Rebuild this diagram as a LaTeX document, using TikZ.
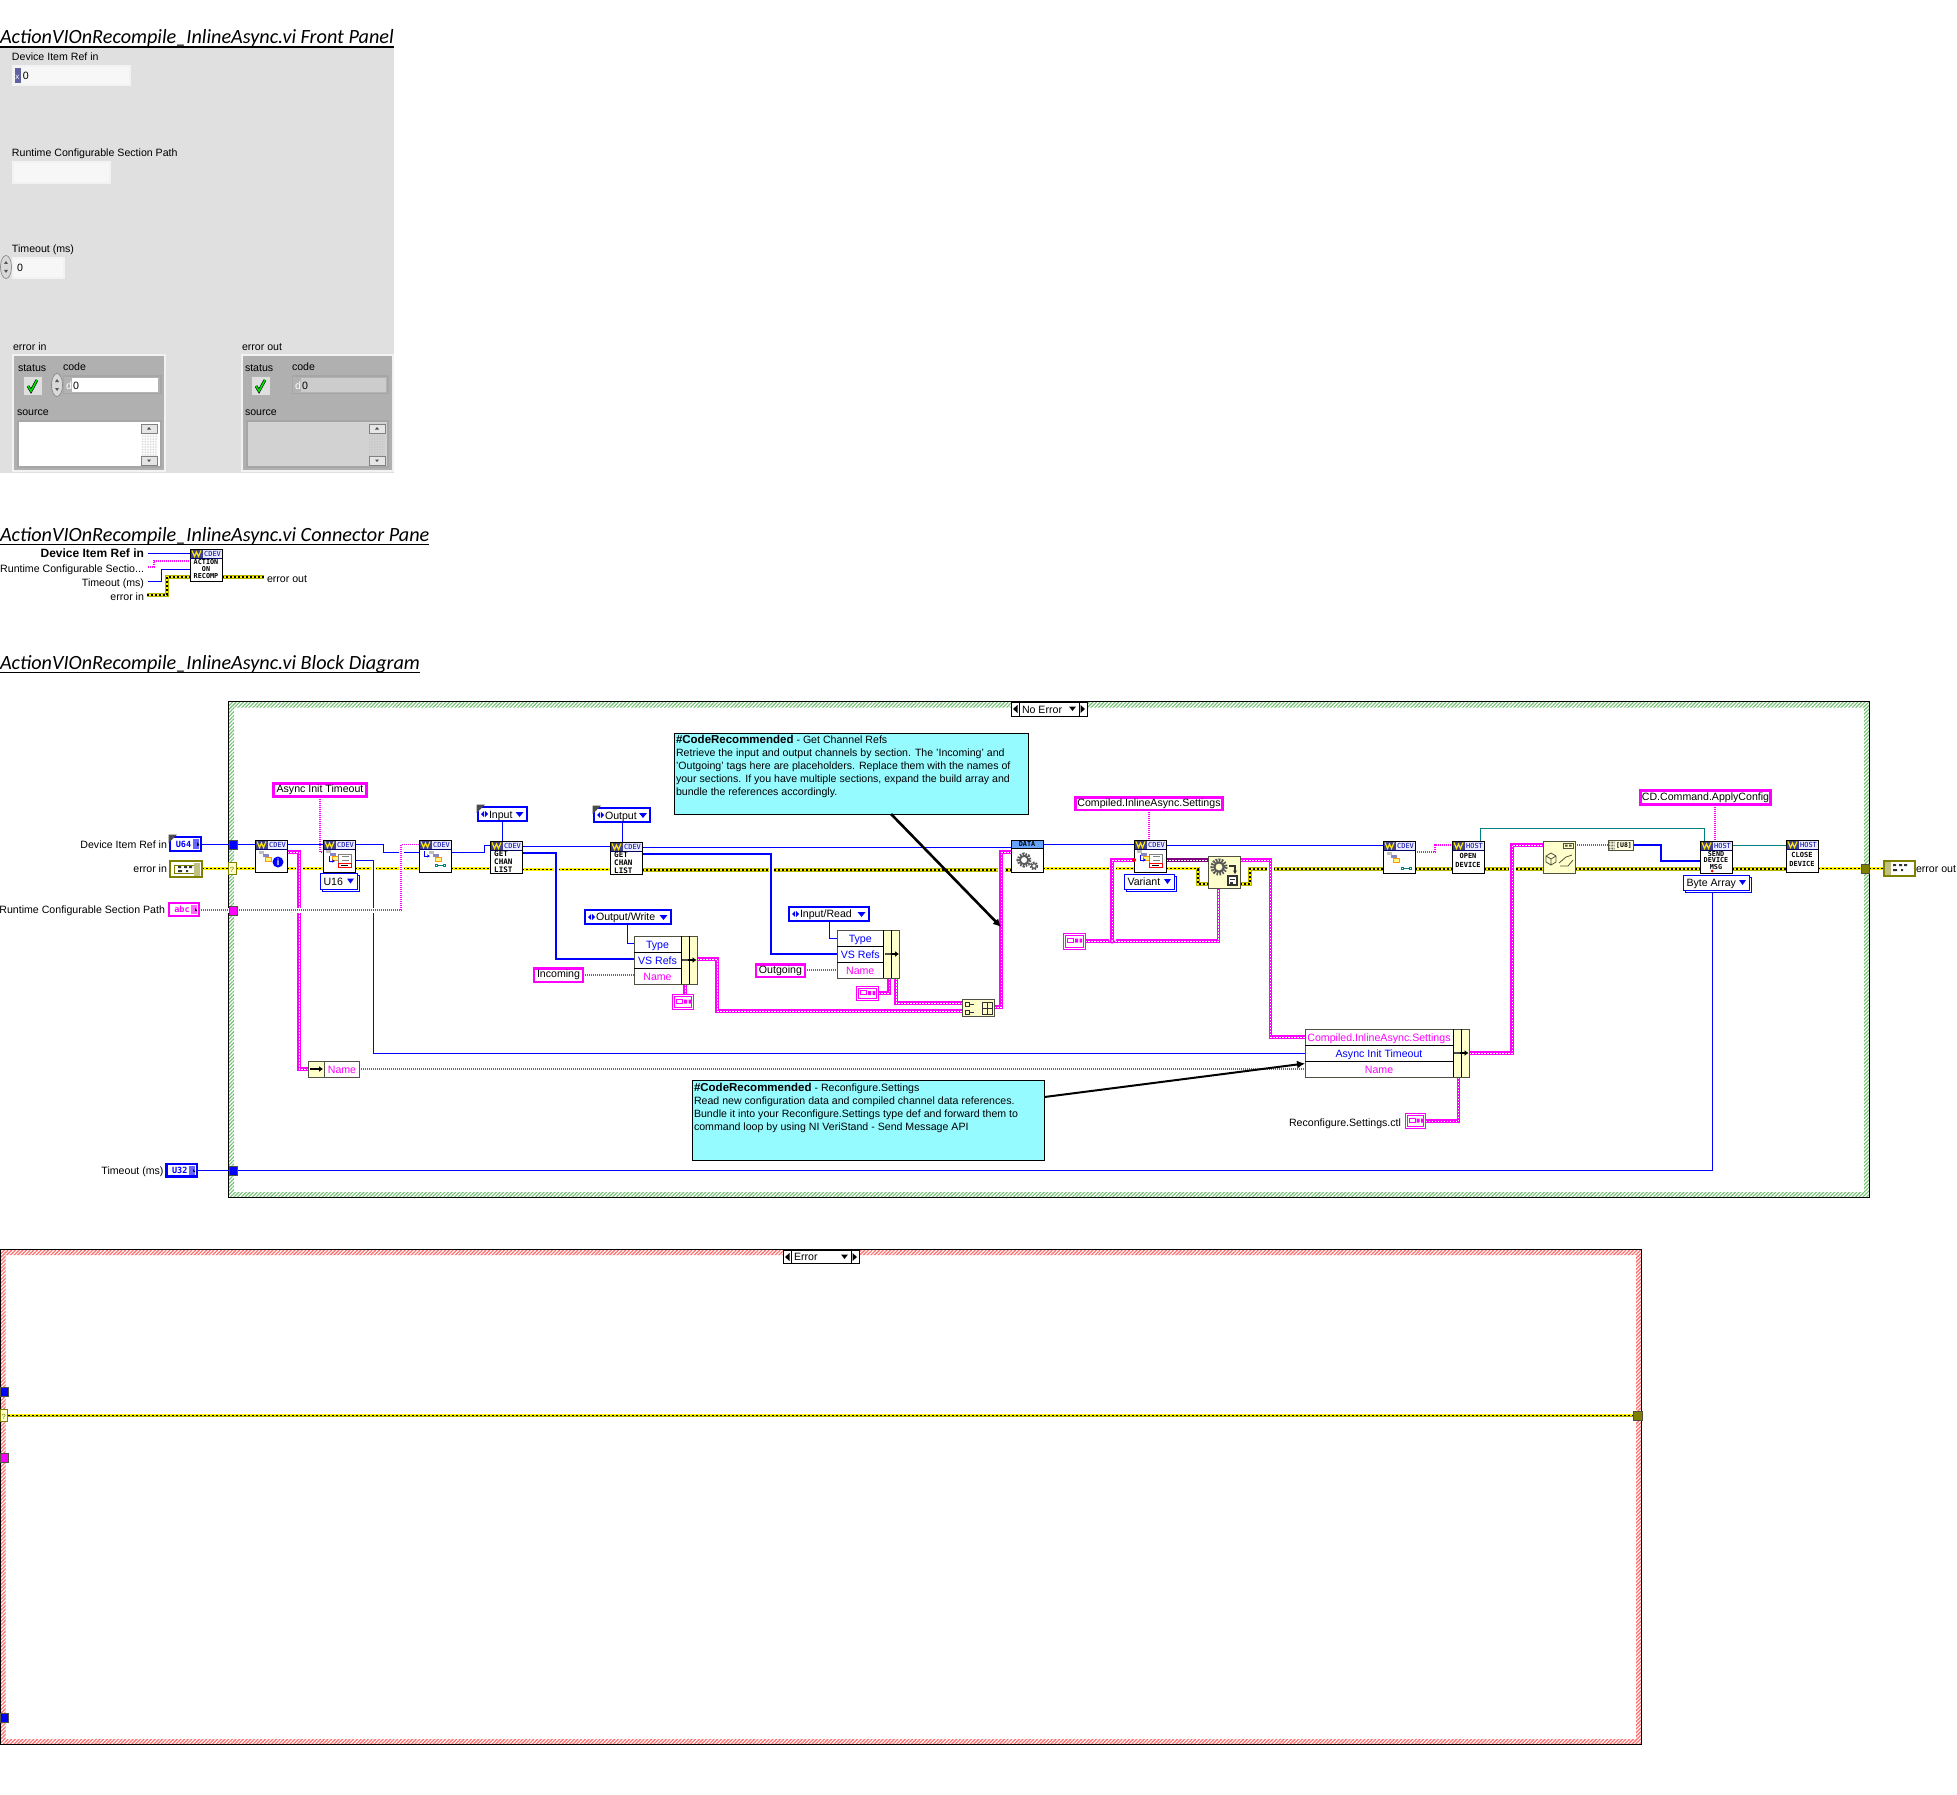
\documentclass[tikz,border=0pt]{standalone}
\usepackage{fontspec}
\setmainfont{Liberation Sans}
\newfontfamily\headf{Carlito}
\newfontfamily\monof{DejaVu Sans Mono}
\usetikzlibrary{patterns.meta,arrows.meta,shapes.geometric}
\pgfdeclarelayer{fg}
\pgfdeclarelayer{top}
\pgfsetlayers{main,fg,top}
\definecolor{mag}{HTML}{FF00FF}
\definecolor{blu}{HTML}{0000FF}
\definecolor{oliv}{HTML}{808000}
\definecolor{tealw}{HTML}{008080}
\definecolor{purpw}{HTML}{800080}
\definecolor{notec}{HTML}{96FBFF}
\definecolor{yel}{HTML}{FFFFCC}
\definecolor{edgeg}{HTML}{505040}
\definecolor{panel}{HTML}{E0E0E0}
\definecolor{clus}{HTML}{B0B0B0}
\definecolor{hg}{HTML}{70C070}
\definecolor{hr}{HTML}{FF7070}
\newcommand\lvf{\fontsize{10.6}{13}\selectfont}
\newcommand\mnf[1]{\fontsize{#1}{8}\selectfont\monof\bfseries}
\newcommand\notebf[1]{{\fontsize{11.5}{13}\selectfont\bfseries #1}}
\tikzset{
 box/.style={draw=black,line width=.8pt,inner sep=0pt,outer sep=0pt,font=\lvf},
 lbl/.style={inner sep=0pt,outer sep=0pt,font=\lvf,text=black},
 pkc/.style={draw=mag,line width=2.6pt,fill=white},
 blc/.style={draw=blu,line width=2pt,fill=white},
 bw/.style={draw=blu,line width=1pt},
 tb/.style={draw=blu,line width=2.2pt},
 tl/.style={draw=tealw,line width=1pt},
 pw/.style={draw=mag,line width=1.3pt,dash pattern=on 1.4pt off .6pt},
 tp/.style={draw=mag,line width=3.6pt,postaction={draw=white,line width=1pt,dash pattern=on 1.5pt off 1.5pt}},
 vp/.style={draw=purpw,line width=3.4pt,postaction={draw=white,line width=.8pt,dash pattern=on 1.5pt off 1.5pt}},
 ew/.style={draw=oliv!60!yellow,line width=3.4pt,postaction={draw=yellow,line width=2.2pt},postaction={draw=black,line width=1.4pt,dash pattern=on 2pt off 2pt}},
 halo/.style={preaction={draw=white,line width=7pt}},
 halot/.style={preaction={draw=white,line width=5pt}},
 notearrow/.style={line width=2.6pt,black,-{Latex[length=8pt,width=8pt]}},
 hatchg/.style={even odd rule,fill=white,postaction={pattern={Lines[angle=45,distance=2.6pt,line width=1.1pt]},pattern color=hg}},
 hatchr/.style={even odd rule,fill=white,postaction={pattern={Lines[angle=45,distance=2.6pt,line width=1.3pt]},pattern color=hr}},
 headtxt/.style={lbl,anchor=base west,font=\fontsize{20.2}{24}\selectfont\headf\itshape},
}
% generic box node from corner to corner
\newcommand\nd[7][]{\node[box,#1,minimum width={(#5-(#3))*1pt},minimum height={(#6-(#4))*1pt}] (#2) at ({(#3+#5)/2},{(#4+#6)/2}) {#7};}
\newcommand\txl[5][]{\node[lbl,anchor=base west,#1] (#2) at ({#3},{#4+4}) {#5};}
\newcommand\txr[5][]{\node[lbl,anchor=base east,#1] (#2) at ({#3},{#4+4}) {#5};}
\newcommand\txc[5][]{\node[lbl,anchor=base,#1] (#2) at ({#3},{#4+4}) {#5};}
% VI icon with header: name x y tag
\newcommand\vi[4]{%
 \nd[fill=white,line width=1pt]{#1}{#2}{#3}{#2+32}{#3+32}{}
 \fill[blue!8] (#2,#3) rectangle (#2+32,#3+9);
 \fill[blue!40!black!75] (#2,#3) rectangle (#2+13,#3+9);
 \draw[yellow!90!orange,line width=1.2pt] (#2+2,#3+1.5)--(#2+4.5,#3+7.5)--(#2+6.5,#3+3)--(#2+8.5,#3+7.5)--(#2+11,#3+1.5);
 \node[inner sep=0pt,font=\fontsize{7}{8}\selectfont\monof,text=blue!65!black] (#1tag) at (#2+22.5,#3+4.6) {#4};
 \draw[black,line width=1pt] (#2,#3) rectangle (#2+32,#3+32);
 \draw[blue!40!black,line width=.6pt] (#2,#3+9)--(#2+32,#3+9);
}
\newcommand\tree[2]{%
 \fill[gray!50] (#1,#2) rectangle +(5,3);
 \fill[blue!35!gray!70] (#1+4,#2+3) rectangle +(6,3);
 \fill[yellow!50!white] (#1+6,#2+6) rectangle +(6,4);
 \draw[orange!80!yellow,line width=.8pt] (#1+6,#2+6) rectangle +(6,4);
}
\newcommand\arrowg[2]{\draw[blu,line width=.8pt,-{Stealth[length=3pt,width=3pt]}] (#1,#2)--(#1,#2+5)--(#1+6,#2+5);}
\newcommand\listg[2]{%
 \draw[gray,line width=.6pt,fill=white] (#1,#2) rectangle +(13,9);
 \draw[gray,line width=.8pt] (#1+4,#2+2)--(#1+11,#2+2) (#1+4,#2+6)--(#1+11,#2+6);
 \draw[red,line width=1pt,fill=white] (#1,#2+9) rectangle +(13,4);
 \draw[black,line width=.8pt] (#1+3,#2+11)--(#1+10,#2+11);
}
\newcommand\linkg[2]{\draw[tealw,line width=.8pt] (#1,#2)rectangle +(2,2) (#1+2,#2+1)--(#1+8,#2+1) (#1+8,#2)rectangle +(2,2);}
\newcommand\gear[3]{\draw[gray!70!black,line width=#3*.55pt,dash pattern=on 1.6pt off 1.1pt] (#1,#2) circle[radius=#3*.8]; \draw[gray!70!black,line width=#3*.25pt] (#1,#2) circle[radius=#3*.58];}
% cluster constant
\newcommand\clc[5]{%
 \nd[draw=mag,line width=1pt,fill=white]{#1}{#2}{#3}{#4}{#5}{}
 \draw[mag,line width=.9pt] (#2+2,#3+2) rectangle (#4-2,#5-2);
 \draw[mag,line width=.8pt] (#2+4,#3+4.5) rectangle +(6,4);
 \fill[mag] (#2+11.5,#3+5)rectangle +(3,4) (#2+16,#3+5) rectangle +(2.5,4);
}
% stacked ring
\newcommand\ring[6]{%
 \draw[blu,line width=1pt,fill=white] (#2+2,#3+2) rectangle (#4+2,#5+2);
 \nd[draw=blu,line width=1pt,fill=white]{#1}{#2}{#3}{#4}{#5}{}
 \txl{#1t}{#2+3}{(#3+#5)/2}{#6}
 \fill[blu] (#4-10,#3+5)--(#4-3,#3+5)--(#4-6.5,#3+10)--cycle;
}
% enum constant
\newcommand\enumc[6]{%
 \nd[blc]{#1}{#2}{#3}{#4}{#5}{}
 \fill[blu] (#2+6,#3+4)--(#2+3,#3+7)--(#2+6,#3+10)--cycle (#2+7,#3+4)--(#2+10,#3+7)--(#2+7,#3+10)--cycle;
 \txl{#1t}{#2+11}{(#3+#5)/2}{#6}
 \fill[blu] (#4-11,#3+5)--(#4-3,#3+5)--(#4-7,#3+10)--cycle;
}
\newcommand\corner[2]{\fill[black!70] (#1-1.5,#2-1.5)--(#1+7,#2-1.5)--(#1-1.5,#2+7)--cycle;}
% terminal
\newcommand\term[7]{%
 \nd[draw=#6,line width=2.2pt,fill=white]{#1}{#2}{#3}{#4}{#5}{}
 \node[inner sep=0pt,font=\mnf{8.5},text=#6] (#1t) at ({(#2+#4)/2-2},{(#3+#5)/2}) {#7};
 \fill[#6!60] (#4-8,#3+2)rectangle(#4-2,#5-2);
 \fill[black] (#4-4,#3+5)--(#4-1.5,#3+8)--(#4-4,#5-5)--cycle;
}
\newcommand\errterm[4]{%
 \nd[draw=oliv,line width=2pt,fill=white]{#1}{#2}{#3}{#2+32}{#3+16}{}
 \draw[oliv,line width=1pt] (#2+4,#3+4) rectangle (#2+24,#3+12);
 \fill[black!80] (#2+8,#3+5)rectangle +(3,2) (#2+14,#3+5)rectangle +(3,2) (#2+19,#3+5) rectangle +(3,2)(#2+8,#3+9)rectangle +(4,2)(#2+16,#3+9)rectangle +(2,2);
 \fill[oliv!50] (#4-8,#3+1.5) rectangle +(6,13);
}
% selector
\newcommand\sel[6]{%
 \nd[fill=white,line width=.9pt]{#1}{#2}{#3}{#4}{#5}{}
 \draw[black,line width=.9pt] (#2+8,#3)--(#2+8,#5) (#4-8,#3)--(#4-8,#5);
 \fill[black] (#2+6.5,#3+3)--(#2+2,#3+7)--(#2+6.5,#3+11)--cycle (#4-6.5,#3+3)--(#4-2,#3+7)--(#4-6.5,#3+11)--cycle;
 \fill[black] (#4-18,#3+4.5)--(#4-11,#3+4.5)--(#4-14.5,#3+9)--cycle;
 \txl{#1t}{#2+11}{(#3+#5)/2}{#6}
}
% bundle: name x0 y0 x1(text col end) rows as three labels
\newcommand\bund[9]{%
 \nd[draw=edgeg,line width=.9pt,fill=white]{#1}{#2}{#3}{#4+16}{#5}{}
 \fill[yel] (#4,#3) rectangle (#4+16,#5);
 \draw[edgeg,line width=.9pt] (#2,#3) rectangle (#4+16,#5);
 \draw[black,line width=.8pt] (#4,#3)--(#4,#5) (#4+8,#3)--(#4+8,#5) (#2,#3+16)--(#4,#3+16) (#2,#5-16)--(#4,#5-16);
 \txc[text=#7]{#1a}{(#2+#4)/2}{#3+8}{#6}
 \txc[text=blu]{#1b}{(#2+#4)/2}{(#3+#5)/2}{#8}
 \txc[text=mag]{#1c}{(#2+#4)/2}{#5-8}{#9}
 \draw[black!70,line width=2.6pt] (#4+1,{(#3+#5)/2})--(#4+7,{(#3+#5)/2});
 \draw[black,line width=2pt,-{Latex[length=4pt,width=6pt]}] (#4+7,{(#3+#5)/2})--(#4+15.5,{(#3+#5)/2});
}
\newcommand\spin[3]{%
 \node[ellipse,draw=gray,line width=.6pt,fill=gray!30,minimum width=11pt,minimum height=23pt,inner sep=0pt] (#1) at (#2,#3) {};
 \fill[gray!70!black] (#2-2,#3-3)--(#2+2,#3-3)--(#2,#3-6)--cycle (#2-2,#3+3)--(#2+2,#3+3)--(#2,#3+6)--cycle;
}
\newcommand\chk[3]{%
 \nd[fill=gray!25,draw=gray!60,line width=.8pt]{#1}{#2}{#3}{#2+19}{#3+19}{}
 \draw[black,line width=2.8pt] (#2+5,#3+10)--(#2+8,#3+15)--(#2+14,#3+4);
 \draw[green!90!black,line width=1.6pt] (#2+5,#3+10)--(#2+8,#3+15)--(#2+14,#3+4);
}
\newcommand\scroll[5]{%
 \nd[draw=none,fill=gray!15,pattern={Dots[distance=1.6pt,radius=.4pt]},pattern color=gray!50]{#1}{#2}{#3}{#2+16}{#4}{}
 \nd[fill=gray!20,draw=gray,line width=.6pt]{#1u}{#2}{#3}{#2+16}{#3+9}{}
 \nd[fill=gray!20,draw=gray,line width=.6pt]{#1d}{#2}{#4-9}{#2+16}{#4}{}
 \fill[black!70] (#2+8,#3+3)--(#2+6,#3+5.5)--(#2+10,#3+5.5)--cycle (#2+8,#4-3)--(#2+6,#4-5.5)--(#2+10,#4-5.5)--cycle;
}
\begin{document}
\begin{tikzpicture}[x=1pt,y=-1pt]
\useasboundingbox (0,0) rectangle (1957,1795);
\fill[white] (0,0) rectangle (1957,1795);

%------ front panel
\nd[draw=none,fill=panel]{fp}{0}{47}{394}{472.5}{}
\node[headtxt] (h1) at (0,44) {ActionVIOnRecompile\_InlineAsync.vi Front Panel};
\draw[black,line width=1.6pt] (h1.west|-0,47)--(h1.east|-0,47);
\txl{fa}{12}{57}{Device Item Ref in}
\nd[draw=gray!10,line width=2pt,fill=gray!6]{fab}{13}{66}{129.5}{85.5}{}
\fill[blue!25!gray] (15,68) rectangle (21,83);
\txl[text=white,font=\fontsize{8}{9}\selectfont]{fax}{15.5}{75.5}{x}
\txl{fa0}{23}{75.5}{0}
\txl{fb}{12}{153}{Runtime Configurable Section Path}
\nd[draw=gray!10,line width=2pt,fill=gray!6]{fbb}{13}{162}{110}{183.5}{}
\txl{fc}{12}{249}{Timeout (ms)}
\nd[draw=gray!10,line width=2pt,fill=gray!6]{fcb}{13}{258}{64}{278}{}
\spin{fcs}{6}{267}
\txl{fc0}{17}{267.5}{0}
% error in
\txl{ei}{13}{346}{error in}
\nd[draw=gray!10,line width=1.5pt,fill=clus]{eic}{13}{355}{165}{471}{}
\txl{eis}{18}{367}{status}
\txl{eic1}{63}{366}{code}
\chk{eik}{23}{376}
\spin{eisp}{57}{385}
\nd[draw=gray!70,line width=1.5pt,fill=gray!60]{eib}{63.5}{376}{161}{393.5}{}
\nd[draw=none,fill=white]{eib2}{72}{378}{158}{392}{}
\txl[text=white]{eid}{66}{385.5}{d}
\txl{ei0}{73}{385.5}{0}
\txl{eisr}{17}{411}{source}
\nd[draw=gray!70,line width=2.5pt,fill=white]{eit}{18}{421}{161}{467}{}
\scroll{eisc}{141}{424}{465}{}
% error out
\txl{eo}{242}{346}{error out}
\nd[draw=gray!10,line width=1.5pt,fill=clus]{eoc}{242}{355}{393}{471}{}
\txl{eos}{245}{367}{status}
\txl{eoc1}{292}{366}{code}
\chk{eok}{251}{376}
\nd[draw=gray!70,line width=1.5pt,fill=gray!60]{eob}{292.5}{376}{388}{393.5}{}
\nd[draw=none,fill=gray!40]{eob2}{301}{378}{386}{392}{}
\txl[text=white]{eod}{295}{385.5}{d}
\txl{eo0}{302}{385.5}{0}
\txl{eosr}{245}{411}{source}
\nd[draw=gray!70,line width=2.5pt,fill=gray!35]{eot}{247}{421}{388}{467}{}
\scroll{eosc}{369}{424}{465}{}

%------ connector pane
\node[headtxt] (h2) at (0,541.5) {ActionVIOnRecompile\_InlineAsync.vi Connector Pane};
\draw[black,line width=1.6pt] (h2.west|-0,544.5)--(h2.east|-0,544.5);
\node[headtxt] (h3) at (0,669.5) {ActionVIOnRecompile\_InlineAsync.vi Block Diagram};
\draw[black,line width=1.6pt] (h3.west|-0,672.5)--(h3.east|-0,672.5);
\begin{pgfonlayer}{fg}
\vi{act}{190}{549}{CDEV}
\node[inner sep=0pt,align=center,font=\fontsize{6.8}{7}\selectfont\monof\bfseries,text=black] (actt) at (206,569.5) {ACTION\\ON\\RECOMP};
\end{pgfonlayer}
\txr[font=\fontsize{12}{13}\selectfont\bfseries]{ca}{144}{553.5}{Device Item Ref in}
\txr{cb}{144}{568}{Runtime Configurable Sectio...}
\txr{cc}{144}{582}{Timeout (ms)}
\txr{cd}{144}{596}{error in}
\txl{ce}{267}{578}{error out}
\draw[bw] (148,553.5)--(act.west|-0,553.5);
\draw[pw] (148,567)--(154,567)--(154,561)--(act.west|-0,561);
\draw[bw] (148,581)--(161,581)--(161,569)--(act.west|-0,569);
\draw[ew] (147,595)--(167,595)--(167,577)--(act.west|-0,577);
\draw[ew] (act.east|-0,577)--(264,577);

%------ frames
\path[hatchg] (228.5,701.5) rectangle (1869,1197.5) (234,707.5) rectangle (1864,1192);
\draw[black,line width=1pt] (228.5,701.5) rectangle (1869,1197.5);
\path[hatchr] (.5,1249.5) rectangle (1641,1744) (5.5,1255) rectangle (1636,1739);
\draw[black,line width=1pt] (.5,1249.5) rectangle (1641,1744);

\begin{pgfonlayer}{fg}
\sel{sn}{1011}{702}{1087}{716}{No Error}
\sel{se}{783}{1250}{859}{1263}{Error}
% terminals and tunnels
\term{tD}{170}{837}{201}{851}{blu}{U64}
\corner{170}{836}
\errterm{tE}{170}{861}{202}
\term{tR}{169}{903}{199}{916}{mag}{abc}
\term{tT}{166.5}{1164}{197}{1176.5}{blu}{U32}
\nd[draw=edgeg,line width=.7pt,fill=blu]{uD}{229}{840}{237}{849}{}
\nd[draw=oliv,line width=.8pt,fill=yel]{uE}{228.5}{862}{236}{874}{}
\txc[font=\fontsize{7.5}{8}\selectfont,text=oliv]{uEq}{232}{868}{?}
\nd[draw=edgeg,line width=.7pt,fill=mag]{uR}{229}{906}{237}{915}{}
\nd[draw=edgeg,line width=.7pt,fill=blu]{uT}{229}{1166}{237}{1175}{}
\nd[draw=edgeg,line width=.7pt,fill=oliv]{uO}{1861}{864}{1869}{873}{}
\nd[draw=oliv,line width=2pt,fill=white]{tO}{1884}{861}{1915}{875.5}{}
\fill[oliv!50] (1885,862) rectangle +(6,12.5);
\fill[black!80] (1893,864)rectangle +(3,2) (1899,864)rectangle +(3,2) (1904,864) rectangle +(3,2)(1893,869)rectangle +(4,2)(1901,869)rectangle +(2,2);
% red-frame tunnels
\nd[draw=edgeg,line width=.7pt,fill=blu]{rA}{0}{1387}{8}{1396}{}
\nd[draw=oliv,line width=.8pt,fill=yel]{rB}{0}{1409}{7.5}{1421}{}
\txc[font=\fontsize{7.5}{8}\selectfont,text=oliv]{rBq}{3.7}{1415}{?}
\nd[draw=edgeg,line width=.7pt,fill=mag]{rC}{0}{1453}{8}{1462}{}
\nd[draw=edgeg,line width=.7pt,fill=blu]{rD}{0}{1713}{8}{1722}{}
\nd[draw=edgeg,line width=.7pt,fill=oliv]{rE}{1633}{1411}{1642}{1420}{}
% VIs
\vi{i1}{255}{840}{CDEV}
\tree{259}{851} \fill[blu] (278,862) circle[radius=5.5];
\node[inner sep=0pt,font=\fontsize{9}{9}\selectfont\bfseries,text=white] (i1g) at (278,862) {i};
\vi{i2}{323}{840}{CDEV}
\tree{326}{850} \arrowg{329}{856} \listg{338}{854}
\vi{i3}{419}{840}{CDEV}
\tree{429}{851} \arrowg{424}{851} \linkg{435}{864}
\vi{g1}{490}{841}{CDEV}
\node[inner sep=0pt,align=left,anchor=north west,font=\mnf{7.6},text=black] (g1t) at (494,851) {GET\\CHAN\\LIST};
\vi{g2}{610}{842}{CDEV}
\node[inner sep=0pt,align=left,anchor=north west,font=\mnf{7.6},text=black] (g2t) at (614,852) {GET\\CHAN\\LIST};
\nd[fill=white,line width=1pt]{dat}{1011}{840}{1043}{872}{}
\fill[blue!60!cyan!60] (1011,840) rectangle (1043,848);
\draw[black,line width=1pt] (1011,840) rectangle (1043,872) (1011,848)--(1043,848);
\node[inner sep=0pt,font=\mnf{6.8},text=black] (datt) at (1027,844.3) {DATA};
\gear{1024}{860}{7} \gear{1034}{866}{4}
\vi{i4}{1134}{840}{CDEV}
\tree{1137}{850} \arrowg{1140}{855} \listg{1149}{854}
\fill[red] (1134,860) circle[radius=2];
\nd[draw=edgeg,line width=.9pt,fill=yel]{cfg}{1208}{856}{1240}{888}{}
\gear{1219}{867}{8}
\draw[black!80,line width=1.4pt,-{Stealth[length=3.5pt,width=4pt]}] (1229,866)--(1235,866)--(1235,874);
\draw[black!80,line width=1.2pt,fill=white] (1228,876) rectangle +(9,9);
\draw[black!80,line width=1pt] (1230,879)--(1235,879) (1230,882)rectangle +(2,1);
\vi{i5}{1383}{841}{CDEV}
\tree{1387}{852} \linkg{1401}{867}
\vi{od}{1452}{841}{HOST}
\node[inner sep=0pt,align=center,font=\mnf{7},text=black] (odt) at (1468,860.5) {OPEN\\[1pt]DEVICE};
\nd[draw=edgeg,line width=.9pt,fill=yel]{pk}{1543}{841}{1575}{873}{}
\draw[edgeg,line width=.8pt] (1546,856)--(1551,853)--(1556,856)--(1556,862)--(1551,865)--(1546,862)--cycle (1546,856)--(1551,859)--(1556,856) (1551,859)--(1551,865);
\draw[edgeg,line width=.7pt] (1563,843) rectangle +(10,5);
\fill[edgeg] (1565,844.5)rectangle +(2.5,2)(1569,844.5) rectangle +(2.5,2);
\draw[edgeg,line width=.8pt] (1559,863)--(1566,857)--(1572,855) (1560,866)--(1568,866)--(1573,860);
\vi{sd}{1700}{841}{HOST}
\node[inner sep=0pt,align=center,font=\fontsize{6.8}{6.6}\selectfont\monof\bfseries,text=black] (sdt) at (1716,860.5) {SEND\\DEVICE\\MSG};
\fill[red] (1712,871) circle[radius=1.5];
\vi{cl}{1786}{840}{HOST}
\node[inner sep=0pt,align=center,font=\mnf{7},text=black] (clt) at (1802,859.5) {CLOSE\\[1pt]DEVICE};
% constants
\nd[pkc]{cAs}{273.5}{783.5}{366.5}{796.5}{Async Init Timeout}
\nd[pkc]{cInc}{534}{968.5}{583}{982}{Incoming}
\nd[pkc]{cOutg}{756}{964.5}{805}{977}{Outgoing}
\nd[pkc]{cCo}{1075.5}{797.5}{1222.5}{810}{Compiled.InlineAsync.Settings}
\nd[pkc]{cCD}{1640.5}{790.5}{1770.5}{804.5}{CD.Command.ApplyConfig}
\enumc{cIn}{478}{807}{526.5}{821}{Input}
\corner{478}{806}
\enumc{cOut}{594}{808}{650}{822}{Output}
\corner{594}{807}
\enumc{cOW}{585}{910}{670.5}{923.5}{Output/Write}
\enumc{cIR}{789}{907}{868.5}{920.5}{Input/Read}
\ring{rU}{320.5}{873.5}{357}{889}{U16}
\ring{rV}{1124.5}{874}{1174}{889.5}{Variant}
\ring{rB2}{1683.5}{875}{1749}{890.5}{Byte Array}
\clc{c1}{672.5}{994.5}{693.5}{1009.5}
\clc{c2}{856.5}{986}{878}{1000.5}
\clc{c3}{1063.5}{933.5}{1085}{949}
\clc{c4}{1405}{1113.5}{1425.5}{1128}
% build array
\nd[draw=edgeg,line width=.9pt,fill=yel]{ba}{962.5}{999}{994}{1016}{}
\draw[black!80,line width=.7pt] (965,1002)rectangle +(4,4) (965,1010)rectangle +(4,4) (970,1004)--(974,1004) (970,1012)--(974,1012) (982,1002)rectangle (992,1014) (987,1002)--(987,1014) (982,1008)--(992,1008);
% cast
\nd[draw=edgeg,line width=.8pt,fill=yel!60!white]{cast}{1608}{840.5}{1633}{850}{}
\fill[gray!60,pattern={Dots[distance=1.5pt,radius=.5pt]},pattern color=black!70] (1609,841) rectangle (1615,849.5);
\node[inner sep=0pt,font=\mnf{6.5},text=black] (castt) at (1624,845.3) {[U8]};
% bundles and unbundle
\bund{bu1}{634}{936}{681}{984}{Type}{blu}{VS Refs}{Name}
\bund{bu2}{837}{930}{883.5}{978}{Type}{blu}{VS Refs}{Name}
\bund{bu3}{1305}{1029}{1453}{1077}{Compiled.InlineAsync.Settings}{mag}{Async Init Timeout}{Name}
\nd[draw=edgeg,line width=.9pt,fill=white]{un}{308.5}{1061.5}{359}{1077}{}
\fill[yel] (309,1062) rectangle (324,1076.5);
\draw[edgeg,line width=.9pt] (324,1061.5)--(324,1077);
\txc[text=mag]{unt}{342}{1069}{Name}
\draw[black,line width=2pt,-{Latex[length=4pt,width=6pt]}] (310,1069)--(323,1069);
% notes
\nd[fill=notec,line width=1pt]{n1}{674.5}{733}{1028}{814}{}
\node[lbl,anchor=north west,align=left,font=\fontsize{10.6}{13}\selectfont] (n1t) at (676,735) {\notebf{\#CodeRecommended} - Get Channel Refs\\Retrieve the input and output channels by section. The 'Incoming' and\\'Outgoing' tags here are placeholders. Replace them with the names of\\your sections. If you have multiple sections, expand the build array and\\bundle the references accordingly.};
\nd[fill=notec,line width=1pt]{n2}{692.5}{1080.5}{1044.5}{1160}{}
\node[lbl,anchor=north west,align=left,font=\fontsize{10.6}{13}\selectfont] (n2t) at (694,1083) {\notebf{\#CodeRecommended} - Reconfigure.Settings\\Read new configuration data and compiled channel data references.\\Bundle it into your Reconfigure.Settings type def and forward them to\\command loop by using NI VeriStand - Send Message API};
\end{pgfonlayer}
\txr{lD}{167}{844}{Device Item Ref in}
\txr{lE}{167}{868}{error in}
\txr{lR}{165}{909}{Runtime Configurable Section Path}
\txr{lT}{163.5}{1170}{Timeout (ms)}
\txl{lO}{1916}{868.5}{error out}
\txr{lC}{1401}{1122}{Reconfigure.Settings.ctl}
\coordinate (j1) at (1112,941);
\coordinate (a1) at (1001,927);
\coordinate (a2) at (1305,1063.5);

%------ error wires
\draw[ew] (tE.east|-0,868.5)--(uE.west|-0,868.5);
\draw[ew] (uE.east|-0,868.5)--(i1.west|-0,868.5);
\draw[ew] (i1.east|-0,868.5)--(i2.west|-0,868.5);
\draw[ew] (i2.east|-0,868.5)--(i3.west|-0,868.5);
\draw[ew] (i3.east|-0,868.5)--(g1.west|-0,868.5);
\draw[ew] (g1.east|-0,869.5)--(g2.west|-0,869.5);
\draw[ew] (g2.east|-0,870)--(dat.west|-0,870);
\draw[ew] (dat.east|-0,868.5)--(i4.west|-0,868.5);
\draw[ew] (i4.east|-0,868.5)-|(1198,884)--(cfg.west|-0,884);
\draw[ew] (cfg.east|-0,884)-|(1250,869)--(i5.west|-0,869);
\draw[ew] (i5.east|-0,869)--(od.west|-0,869);
\draw[ew] (od.east|-0,869)--(pk.west|-0,869);
\draw[ew] (pk.east|-0,869)--(sd.west|-0,869);
\draw[ew] (sd.east|-0,869)--(cl.west|-0,869);
\draw[ew] (cl.east|-0,868.5)--(uO.west|-0,868.5);
\draw[ew] (uO.east|-0,868.5)--(tO.west|-0,868.5);
\draw[ew] (rB.east|-0,1415.3)--(rE.west|-0,1415.3);

%------ blue wires
\draw[bw] (tD.east|-0,844.5)--(uD.west|-0,844.5);
\draw[bw] (uD.east|-0,844.5)--(i1.west|-0,844.5);
\draw[bw] (i1.east|-0,844.5)--(i2.west|-0,844.5);
\draw[bw] (i2.east|-0,844.5)-|(383.5,852.5)--(i3.west|-0,852.5);
\draw[bw] (i3.east|-0,852.5)-|(484.5,845)--(g1.west|-0,845);
\draw[bw] (g1.east|-0,846)--(g2.west|-0,846);
\draw[bw] (g2.east|-0,847)--(dat.west|-0,847);
\draw[bw] (dat.east|-0,844.5)--(i4.west|-0,844.5);
\draw[bw] (i4.east|-0,845.5)--(i5.west|-0,845.5);
\draw[bw,halot] (i2.east|-0,860)-|(373.5,1053)--(bu3.west|-0,1053);
\draw[bw] (502,0|-cIn.south)--(502,0|-g1.north);
\draw[bw] (622,0|-cOut.south)--(622,0|-g2.north);
\draw[bw] (627.5,0|-cOW.south)|-(bu1.west|-0,943);
\draw[bw] (829,0|-cIR.south)|-(bu2.west|-0,938);
\draw[bw] (tT.east|-0,1170)--(uT.west|-0,1170);
\draw[bw] (uT.east|-0,1170)-|(1712,0|-rB2.south);
\draw[tb,halot] (g1.east|-0,853)-|(556,959)--(bu1.west|-0,959);
\draw[tb,halot] (g2.east|-0,854)-|(771,954)--(bu2.west|-0,954);
\draw[tb] (cast.east|-0,845)-|(1661,861)--(sd.west|-0,861);
\draw[tl] (1480,0|-od.north)|-(1704,828)--(1704,0|-sd.north);
\draw[tl] (sd.east|-0,845.5)--(cl.west|-0,845.5);

%------ pink wires
\draw[tp,halo] (i1.east|-0,852)-|(299,1069)--(un.west|-0,1069);
\draw[pw,halot] (tR.east|-0,910)--(uR.west|-0,910);
\draw[pw,halot] (uR.east|-0,910)-|(401,844.5)--(i3.west|-0,844.5);
\draw[pw] (320,0|-cAs.south)|-(i2.west|-0,852);
\draw[pw] (cInc.east|-0,975)--(bu1.west|-0,975);
\draw[pw] (cOutg.east|-0,970)--(bu2.west|-0,970);
\draw[pw] (un.east|-0,1069)--(bu3.west|-0,1069);
\draw[pw] (1149,0|-cCo.south)--(1149,0|-i4.north);
\draw[pw] (i5.east|-0,852)-|(1435,845)--(od.west|-0,845);
\draw[pw] (pk.east|-0,845)--(cast.west|-0,845);
\draw[pw] (1715,0|-cCD.south)--(1715,0|-sd.north);
\draw[tp] (bu1.east|-0,959)-|(717,1011)--(ba.west|-0,1011);
\draw[tp] (896,0|-bu2.south)|-(ba.west|-0,1003);
\draw[tp] (685,0|-c1.north)--(685,0|-bu1.south);
\draw[tp] (c2.east|-0,993)-|(889,0|-bu2.south);
\draw[tp,halo] (ba.east|-0,1007)-|(1001,852)--(dat.west|-0,852);
\draw[tp] (c3.east|-0,941)-|(1218.5,0|-cfg.south);
\draw[tp,halo] (j1)|-(i4.west|-0,860);
\fill[mag] (j1) circle[radius=2.6]; \fill[white] (j1) circle[radius=1];
\draw[vp] (i4.east|-0,860)--(cfg.west|-0,860);
\draw[tp,halo] (cfg.east|-0,860)-|(1270.5,1037)--(bu3.west|-0,1037);
\draw[tp,halo] (bu3.east|-0,1053)-|(1512,845)--(pk.west|-0,845);
\draw[tp] (c4.east|-0,1121)-|(1458.5,0|-bu3.south);

\begin{pgfonlayer}{top}
\draw[notearrow] (891,0|-n1.south)--(a1);
\draw[notearrow,line width=2pt] (n2.east|-0,1097)--(a2);
\end{pgfonlayer}
\end{tikzpicture}
\end{document}
